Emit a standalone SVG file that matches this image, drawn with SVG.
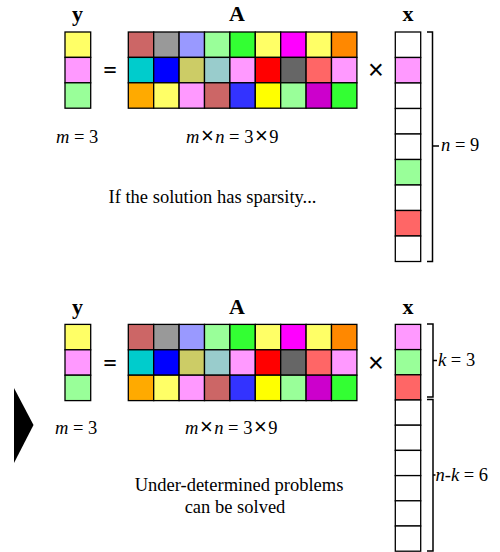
<svg xmlns="http://www.w3.org/2000/svg" width="500" height="552" viewBox="0 0 500 552">
<style>
.c{stroke:#000;stroke-width:1.3}
.lbl{font-family:"Liberation Serif",serif;font-weight:bold;font-size:22px;text-anchor:middle}
.t{font-family:"Liberation Serif",serif;font-size:18.5px}
.i{font-style:italic}
.sx{font-family:"Liberation Sans",sans-serif;font-size:22px}
.br{fill:none;stroke:#000;stroke-width:1.5}
.op{font-family:"Liberation Sans",sans-serif;font-size:27px;text-anchor:middle}
</style>
<rect width="500" height="552" fill="#fff"/>

<!-- TOP SECTION -->
<g id="top-y">
<text class="lbl" x="77.5" y="21">y</text>
<rect class="c" x="65" y="32" width="25.7" height="25.4" fill="#ffff66"/>
<rect class="c" x="65" y="57.4" width="25.7" height="25.4" fill="#ff99ff"/>
<rect class="c" x="65" y="82.8" width="25.7" height="25.4" fill="#99ff99"/>
</g>
<g id="top-eq"><text x="110" y="78" font-family="Liberation Serif,serif" font-weight="bold" font-size="24" text-anchor="middle">=</text></g>
<g id="top-A">
<text class="lbl" x="237" y="21">A</text>
<g transform="translate(128.3,32)">
<rect class="c" x="0" y="0" width="25.4" height="25.4" fill="#cc6666"/>
<rect class="c" x="25.4" y="0" width="25.4" height="25.4" fill="#999999"/>
<rect class="c" x="50.8" y="0" width="25.4" height="25.4" fill="#9999ff"/>
<rect class="c" x="76.2" y="0" width="25.4" height="25.4" fill="#99ff99"/>
<rect class="c" x="101.6" y="0" width="25.4" height="25.4" fill="#33ff33"/>
<rect class="c" x="127" y="0" width="25.4" height="25.4" fill="#ffff66"/>
<rect class="c" x="152.4" y="0" width="25.4" height="25.4" fill="#ff00ff"/>
<rect class="c" x="177.8" y="0" width="25.4" height="25.4" fill="#ffff66"/>
<rect class="c" x="203.2" y="0" width="25.4" height="25.4" fill="#ff8800"/>
<rect class="c" x="0" y="25.4" width="25.4" height="25.4" fill="#00cccc"/>
<rect class="c" x="25.4" y="25.4" width="25.4" height="25.4" fill="#0000ff"/>
<rect class="c" x="50.8" y="25.4" width="25.4" height="25.4" fill="#cccc66"/>
<rect class="c" x="76.2" y="25.4" width="25.4" height="25.4" fill="#99cccc"/>
<rect class="c" x="101.6" y="25.4" width="25.4" height="25.4" fill="#ff99ff"/>
<rect class="c" x="127" y="25.4" width="25.4" height="25.4" fill="#ff0000"/>
<rect class="c" x="152.4" y="25.4" width="25.4" height="25.4" fill="#666666"/>
<rect class="c" x="177.8" y="25.4" width="25.4" height="25.4" fill="#ff6666"/>
<rect class="c" x="203.2" y="25.4" width="25.4" height="25.4" fill="#ff99ff"/>
<rect class="c" x="0" y="50.8" width="25.4" height="25.4" fill="#ffaa00"/>
<rect class="c" x="25.4" y="50.8" width="25.4" height="25.4" fill="#ffff66"/>
<rect class="c" x="50.8" y="50.8" width="25.4" height="25.4" fill="#ff99ff"/>
<rect class="c" x="76.2" y="50.8" width="25.4" height="25.4" fill="#cc6666"/>
<rect class="c" x="101.6" y="50.8" width="25.4" height="25.4" fill="#3333ff"/>
<rect class="c" x="127" y="50.8" width="25.4" height="25.4" fill="#ffff00"/>
<rect class="c" x="152.4" y="50.8" width="25.4" height="25.4" fill="#99ff99"/>
<rect class="c" x="177.8" y="50.8" width="25.4" height="25.4" fill="#cc00cc"/>
<rect class="c" x="203.2" y="50.8" width="25.4" height="25.4" fill="#33ff33"/>
</g>
</g>
<g id="top-times"><text class="op" x="376" y="79">×</text></g>
<g id="top-x">
<text class="lbl" x="408" y="21">x</text>
<rect class="c" x="395.3" y="32" width="25.4" height="25.5" fill="#fff"/>
<rect class="c" x="395.3" y="57.5" width="25.4" height="25.5" fill="#ff99ff"/>
<rect class="c" x="395.3" y="83" width="25.4" height="25.5" fill="#fff"/>
<rect class="c" x="395.3" y="108.5" width="25.4" height="25.5" fill="#fff"/>
<rect class="c" x="395.3" y="134" width="25.4" height="25.5" fill="#fff"/>
<rect class="c" x="395.3" y="159.5" width="25.4" height="25.5" fill="#99ff99"/>
<rect class="c" x="395.3" y="185" width="25.4" height="25.5" fill="#fff"/>
<rect class="c" x="395.3" y="210.5" width="25.4" height="25.5" fill="#ff6666"/>
<rect class="c" x="395.3" y="236" width="25.4" height="25.5" fill="#fff"/>
</g>
<g id="top-bracket">
<path class="br" d="M427,32 H432.5 V261.5 H427 M432.5,146 H439"/>
<text class="t" x="441" y="151"><tspan class="i">n</tspan> = 9</text>
</g>
<g id="top-labels">
<text class="t" x="56" y="143"><tspan class="i">m</tspan> = 3</text>
<text class="t" x="186" y="143"><tspan class="i">m</tspan><tspan class="sx" dx="1.5">×</tspan><tspan class="i" dx="1.5">n</tspan> = 3<tspan class="sx" dx="1.5">×</tspan><tspan dx="1.5">9</tspan></text>
<text class="t" x="212.5" y="203" text-anchor="middle">If the solution has sparsity...</text>
</g>

<!-- ARROW -->
<g id="arrow"><polygon points="14,388 33.5,425 14,463" fill="#000"/></g>

<!-- BOTTOM SECTION -->
<g id="bot-y">
<text class="lbl" x="77.5" y="313.5">y</text>
<rect class="c" x="65" y="324.4" width="25.7" height="25.4" fill="#ffff66"/>
<rect class="c" x="65" y="349.8" width="25.7" height="25.4" fill="#ff99ff"/>
<rect class="c" x="65" y="375.2" width="25.7" height="25.4" fill="#99ff99"/>
</g>
<g id="bot-eq"><text x="110" y="370.5" font-family="Liberation Serif,serif" font-weight="bold" font-size="24" text-anchor="middle">=</text></g>
<g id="bot-A">
<text class="lbl" x="237" y="313.5">A</text>
<g transform="translate(128.3,324.4)">
<rect class="c" x="0" y="0" width="25.4" height="25.4" fill="#cc6666"/>
<rect class="c" x="25.4" y="0" width="25.4" height="25.4" fill="#999999"/>
<rect class="c" x="50.8" y="0" width="25.4" height="25.4" fill="#9999ff"/>
<rect class="c" x="76.2" y="0" width="25.4" height="25.4" fill="#99ff99"/>
<rect class="c" x="101.6" y="0" width="25.4" height="25.4" fill="#33ff33"/>
<rect class="c" x="127" y="0" width="25.4" height="25.4" fill="#ffff66"/>
<rect class="c" x="152.4" y="0" width="25.4" height="25.4" fill="#ff00ff"/>
<rect class="c" x="177.8" y="0" width="25.4" height="25.4" fill="#ffff66"/>
<rect class="c" x="203.2" y="0" width="25.4" height="25.4" fill="#ff8800"/>
<rect class="c" x="0" y="25.4" width="25.4" height="25.4" fill="#00cccc"/>
<rect class="c" x="25.4" y="25.4" width="25.4" height="25.4" fill="#0000ff"/>
<rect class="c" x="50.8" y="25.4" width="25.4" height="25.4" fill="#cccc66"/>
<rect class="c" x="76.2" y="25.4" width="25.4" height="25.4" fill="#99cccc"/>
<rect class="c" x="101.6" y="25.4" width="25.4" height="25.4" fill="#ff99ff"/>
<rect class="c" x="127" y="25.4" width="25.4" height="25.4" fill="#ff0000"/>
<rect class="c" x="152.4" y="25.4" width="25.4" height="25.4" fill="#666666"/>
<rect class="c" x="177.8" y="25.4" width="25.4" height="25.4" fill="#ff6666"/>
<rect class="c" x="203.2" y="25.4" width="25.4" height="25.4" fill="#ff99ff"/>
<rect class="c" x="0" y="50.8" width="25.4" height="25.4" fill="#ffaa00"/>
<rect class="c" x="25.4" y="50.8" width="25.4" height="25.4" fill="#ffff66"/>
<rect class="c" x="50.8" y="50.8" width="25.4" height="25.4" fill="#ff99ff"/>
<rect class="c" x="76.2" y="50.8" width="25.4" height="25.4" fill="#cc6666"/>
<rect class="c" x="101.6" y="50.8" width="25.4" height="25.4" fill="#3333ff"/>
<rect class="c" x="127" y="50.8" width="25.4" height="25.4" fill="#ffff00"/>
<rect class="c" x="152.4" y="50.8" width="25.4" height="25.4" fill="#99ff99"/>
<rect class="c" x="177.8" y="50.8" width="25.4" height="25.4" fill="#cc00cc"/>
<rect class="c" x="203.2" y="50.8" width="25.4" height="25.4" fill="#33ff33"/>
</g>
</g>
<g id="bot-times"><text class="op" x="376" y="371.5">×</text></g>
<g id="bot-x">
<text class="lbl" x="408" y="313.5">x</text>
<rect class="c" x="395.3" y="324.4" width="25.4" height="25.2" fill="#ff99ff"/>
<rect class="c" x="395.3" y="349.6" width="25.4" height="25.2" fill="#99ff99"/>
<rect class="c" x="395.3" y="374.8" width="25.4" height="25.2" fill="#ff6666"/>
<rect class="c" x="395.3" y="400" width="25.4" height="25.2" fill="#fff"/>
<rect class="c" x="395.3" y="425.2" width="25.4" height="25.2" fill="#fff"/>
<rect class="c" x="395.3" y="450.4" width="25.4" height="25.2" fill="#fff"/>
<rect class="c" x="395.3" y="475.6" width="25.4" height="25.2" fill="#fff"/>
<rect class="c" x="395.3" y="500.8" width="25.4" height="25.2" fill="#fff"/>
<rect class="c" x="395.3" y="526" width="25.4" height="25.2" fill="#fff"/>
</g>
<g id="bot-bracket-k">
<path class="br" d="M427,324 H433 V397 H427 M433,360.5 H437"/>
<text class="t" x="438" y="366"><tspan class="i">k</tspan> = 3</text>
</g>
<g id="bot-bracket-nk">
<path class="br" d="M427,399.5 H433 V551 H427 M433,475 H435.5"/>
<text class="t" x="435.5" y="480.5"><tspan class="i">n</tspan>-<tspan class="i">k</tspan> = 6</text>
</g>
<g id="bot-labels">
<text class="t" x="55" y="434"><tspan class="i">m</tspan> = 3</text>
<text class="t" x="185" y="434"><tspan class="i">m</tspan><tspan class="sx" dx="1.5">×</tspan><tspan class="i" dx="1.5">n</tspan> = 3<tspan class="sx" dx="1.5">×</tspan><tspan dx="1.5">9</tspan></text>
<text class="t" x="239" y="491" text-anchor="middle">Under-determined problems</text>
<text class="t" x="235" y="513" text-anchor="middle">can be solved</text>
</g>
</svg>
